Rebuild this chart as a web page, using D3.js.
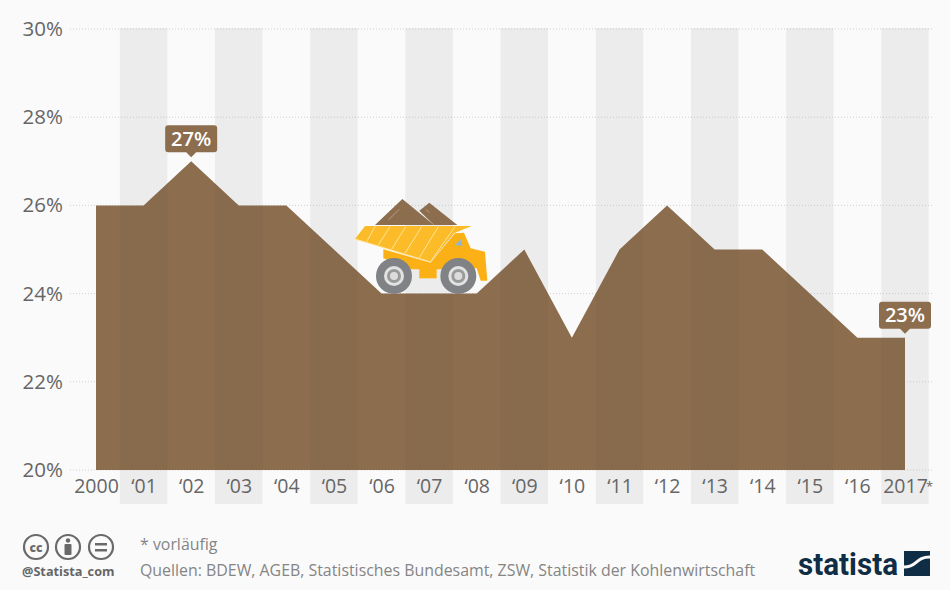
<!DOCTYPE html>
<html>
<head>
<meta charset="utf-8">
<script src="https://cdnjs.cloudflare.com/ajax/libs/d3/7.8.5/d3.min.js"></script>
<style>
  html, body { margin: 0; padding: 0; background: #fafafa; }
  svg { display: block; font-family: "Open Sans", sans-serif; }
</style>
</head>
<body>
<div id="plot"></div>
<script>
const years = ["2000","'01","'02","'03","'04","'05","'06","'07","'08","'09","'10","'11","'12","'13","'14","'15","'16","2017*"];
const shares = [26,26,27,26,26,25,24,24,24,25,23,25,26,25,25,24,23,23];
const yTicks = [20,22,24,26,28,30];
const labelled = ["'02","2017*"];

const brown = "#8c6d4e";
const grey = "#666";

const svg = d3.select("#plot").append("svg")
  .attr("width", 950)
  .attr("height", 590);

const x = d3.scalePoint().domain(years).range([96, 905]);
const y = d3.scaleLinear().domain([20, 30]).range([470, 29]);
const step = x.step();

function stripes(opacity) {
  svg.append("g").selectAll("rect")
    .data(years.filter((d, i) => i % 2))
    .enter().append("rect")
    .attr("x", d => x(d) - step / 2)
    .attr("y", 28)
    .attr("width", step)
    .attr("height", 476)
    .attr("fill", "#000")
    .attr("fill-opacity", opacity);
}

stripes(0.03);

// gridlines
svg.append("g").selectAll("line")
  .data(yTicks)
  .enter().append("line")
  .attr("x1", 70)
  .attr("x2", 932)
  .attr("y1", d => y(d))
  .attr("y2", d => y(d))
  .attr("stroke", "#d0d0d0")
  .attr("stroke-dasharray", "1,2");

const area = d3.area()
  .x((d, i) => x(years[i]))
  .y0(y(20))
  .y1(d => y(d));

svg.append("path")
  .datum(shares)
  .attr("d", area)
  .attr("fill", brown);

// second pass so the stripes show faintly through the area
stripes(0.025);

// axes
const yAxis = svg.append("g")
  .attr("transform", "translate(63,0)")
  .call(d3.axisLeft(y).tickValues(yTicks).tickSize(0).tickPadding(0).tickFormat(d => d + "%"));
yAxis.select(".domain").remove();
yAxis.selectAll("text")
  .attr("font-family", "Open Sans")
  .attr("font-size", 20.5)
  .attr("fill", grey);

const xAxis = svg.append("g")
  .attr("transform", "translate(0,479)")
  .call(d3.axisBottom(x).tickSize(0).tickPadding(0).tickFormat(d => d.replace("'", "\u2018").replace("*", "")));
xAxis.select(".domain").remove();
xAxis.selectAll("text")
  .attr("font-family", "Open Sans")
  .attr("font-size", 19.5)
  .attr("fill", grey);

svg.append("text")
  .attr("x", x("2017*") + 21)
  .attr("y", 491)
  .attr("font-size", 13)
  .attr("fill", grey)
  .text("*");

// callouts
const callout = svg.append("g").selectAll("g")
  .data(labelled)
  .enter().append("g")
  .attr("transform", d => `translate(${x(d)},${y(shares[years.indexOf(d)])})`);
callout.append("path")
  .attr("d", "M-26,-33 Q-26,-36 -23,-36 H23 Q26,-36 26,-33 V-12 Q26,-9 23,-9 H5 L0,-4 L-5,-9 H-23 Q-26,-9 -26,-12 Z")
  .attr("fill", brown);
callout.append("text")
  .attr("y", -15.5)
  .attr("text-anchor", "middle")
  .attr("font-size", 20)
  .attr("font-weight", 600)
  .attr("fill", "#fff")
  .text(d => shares[years.indexOf(d)] + "%");

// truck, drawn at 3x and scaled down
const truck = svg.append("g").attr("transform", "translate(340,190) scale(0.3333)");
truck.append("path").attr("d", "M105,105 L187,27 L282,105 Z").attr("fill", brown);
truck.append("path").attr("d", "M238,62 L268,38 L352,105 L282,105 Z").attr("fill", brown);
truck.append("path").attr("d", "M145,90 L178,58 M258,58 L268,68").attr("stroke", "#b89f84").attr("stroke-width", 3);
truck.append("path")
  .attr("d", "M130,178 L272,218 L345,130 L372,128 L392,175 L435,185 L442,272 L422,272 L410,235 L300,238 L215,238 L130,205 Z")
  .attr("fill", "#fbb116");
truck.append("rect").attr("x", 238).attr("y", 235).attr("width", 52).attr("height", 30).attr("fill", "#fbb116");
truck.append("path")
  .attr("d", "M75,108 L395,108 L342,130 L272,216 L45,147 Z")
  .attr("fill", "#fcbb28");
truck.append("path")
  .attr("d", "M105,110 L80,155 M150,110 L115,165 M197,110 L155,178 M245,110 L195,190 M295,110 L238,203 M345,110 L272,214 M45,147 L272,216")
  .attr("stroke", "#ffe49a")
  .attr("stroke-width", 3)
  .attr("fill", "none");
truck.append("path").attr("d", "M345,165 L362,148 L368,168 Z").attr("fill", "#8fb6cf");
[162, 355].forEach(cx => {
  truck.append("circle").attr("cx", cx).attr("cy", 258).attr("r", 54).attr("fill", "#808285");
  truck.append("circle").attr("cx", cx).attr("cy", 258).attr("r", 30).attr("fill", "#e2e2e2");
  truck.append("circle").attr("cx", cx).attr("cy", 258).attr("r", 21).attr("fill", "#9a9a9a");
  truck.append("circle").attr("cx", cx).attr("cy", 258).attr("r", 12).attr("fill", "#dcdcdc");
});

// footer icons
const iconColor = "#6a6a6a";
const icons = svg.append("g");
[36, 68, 101].forEach(cx => {
  icons.append("circle").attr("cx", cx).attr("cy", 547).attr("r", 12)
    .attr("fill", "none").attr("stroke", iconColor).attr("stroke-width", 2.2);
});
icons.append("text").attr("x", 36).attr("y", 551.5).attr("text-anchor", "middle")
  .attr("font-size", 12).attr("font-weight", 800).attr("fill", iconColor).text("cc");
icons.append("circle").attr("cx", 68).attr("cy", 540.5).attr("r", 2.2).attr("fill", iconColor);
icons.append("rect").attr("x", 64.5).attr("y", 544).attr("width", 7).attr("height", 11).attr("rx", 1).attr("fill", iconColor);
icons.append("rect").attr("x", 95).attr("y", 543).attr("width", 12).attr("height", 2.5).attr("fill", iconColor);
icons.append("rect").attr("x", 95).attr("y", 549).attr("width", 12).attr("height", 2.5).attr("fill", iconColor);

svg.append("text").attr("x", 22).attr("y", 576)
  .attr("font-size", 12.7).attr("font-weight", 700).attr("fill", "#666").text("@Statista_com");
svg.append("text").attr("x", 140).attr("y", 550)
  .attr("font-size", 15.9).attr("fill", "#858585").text("* vorläufig");
svg.append("text").attr("x", 140).attr("y", 575.5)
  .attr("font-size", 15.9).attr("fill", "#858585")
  .text("Quellen: BDEW, AGEB, Statistisches Bundesamt, ZSW, Statistik der Kohlenwirtschaft");

// statista logo
svg.append("text").attr("x", 798).attr("y", 575)
  .attr("font-family", "Roboto")
  .attr("font-size", 32).attr("font-weight", 700).attr("fill", "#0f2d45")
  .attr("textLength", 100).attr("lengthAdjust", "spacingAndGlyphs").text("statista");
svg.append("rect").attr("x", 904).attr("y", 551).attr("width", 26).attr("height", 25).attr("fill", "#0f2d45");
svg.append("path")
  .attr("d", "M904,567 C918,567 915,557 930,557")
  .attr("fill", "none")
  .attr("stroke", "#fafafa")
  .attr("stroke-width", 3);
</script>
</body>
</html>
